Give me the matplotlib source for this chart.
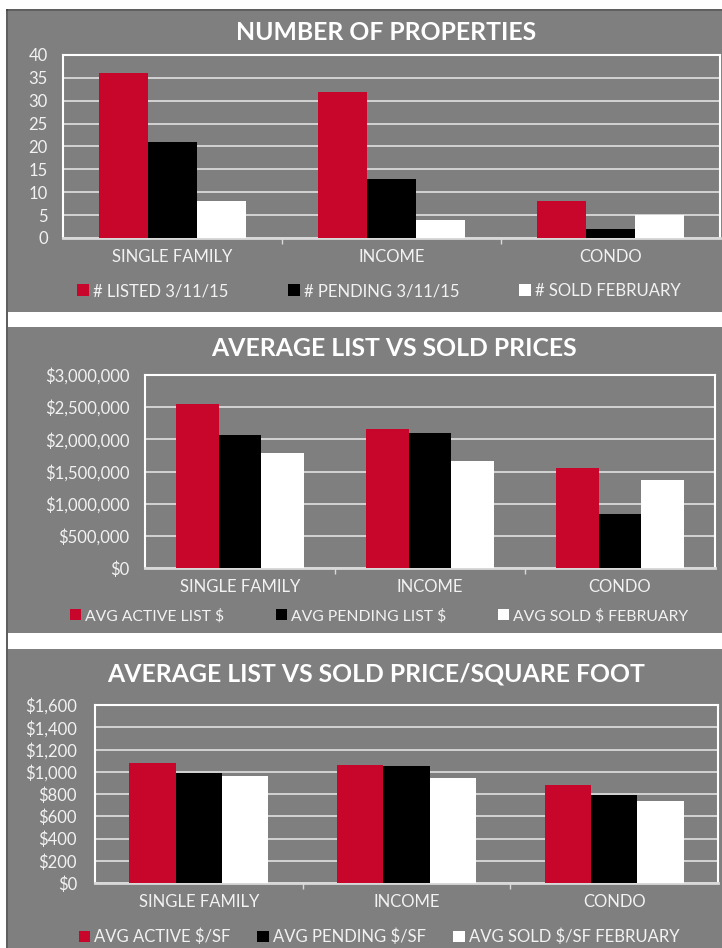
import matplotlib.pyplot as plt
import matplotlib.patches as mpatches
import matplotlib.ticker as mticker
from matplotlib.lines import Line2D
import numpy as np

plt.rcParams['font.family'] = ['Lato', 'DejaVu Sans']

categories = ["SINGLE FAMILY", "INCOME", "CONDO"]

count_labels = ["# LISTED 3/11/15", "# PENDING 3/11/15", "# SOLD FEBRUARY"]
num_listed = [36, 32, 8]
num_pending = [21, 13, 2]
num_sold = [8, 4, 5]

price_labels = ["AVG ACTIVE LIST $", "AVG PENDING LIST $", "AVG SOLD $ FEBRUARY"]
price_active = [2550000, 2155000, 1555000]
price_pending = [2070000, 2095000, 840000]
price_sold = [1790000, 1660000, 1375000]

sf_labels = ["AVG ACTIVE $/SF", "AVG PENDING $/SF", "AVG SOLD $/SF FEBRUARY"]
sf_active = [1075, 1060, 883]
sf_pending = [990, 1055, 795]
sf_sold = [963, 948, 735]

RED = "#c8062c"
GRAY = "#7f7f7f"
LIGHT = "#f2f2f2"
GRID = "#d9d9d9"
W, H = 722, 948

fig = plt.figure(figsize=(W / 100, H / 100), dpi=100)
fig.patch.set_facecolor("white")


def px_rect(left, top, right, bottom):
    return [left / W, 1 - bottom / H, (right - left) / W, (bottom - top) / H]


# gray panels behind each chart
for top, bottom in [(11, 312), (327, 633), (649, 948)]:
    fig.patches.append(mpatches.Rectangle((8 / W, 1 - bottom / H), (W - 8) / W, (bottom - top) / H,
                                          transform=fig.transFigure, facecolor=GRAY, edgecolor="none", zorder=-5))
fig.lines.append(Line2D([7 / W, 7 / W], [0, 1 - 10 / H], transform=fig.transFigure, color="#404040", lw=1.2, zorder=-4))
fig.lines.append(Line2D([7 / W, 1], [1 - 10 / H, 1 - 10 / H], transform=fig.transFigure, color="#404040", lw=1.2, zorder=-4))


def panel(rect, title, title_xy, series, labels, ymax, ystep, fmt, leg_y, colspace, ypad, legsize):
    ax = fig.add_axes(px_rect(*rect))
    ax.set_facecolor(GRAY)
    x = np.arange(len(categories))
    width = 0.223
    colors = [RED, "black", "white"]
    handles = []
    for i, (vals, lab) in enumerate(zip(series, labels)):
        b = ax.bar(x + (i - 1) * width, vals, width, color=colors[i], label=lab, zorder=3)
        handles.append(b)
    ax.set_xlim(-0.5, len(categories) - 0.5)
    ax.set_ylim(0, ymax)
    ax.set_yticks(np.arange(0, ymax + ystep / 2, ystep))
    ax.yaxis.set_major_formatter(mticker.FuncFormatter(fmt))
    ax.grid(axis="y", color=GRID, lw=1.3, zorder=1)
    ax.set_axisbelow(True)
    ax.set_xticks(x)
    ax.set_xticklabels(categories)
    ax.set_xticks([0.5, 1.5], minor=True)
    ax.tick_params(axis="x", which="major", length=0, pad=8, labelsize=12, labelcolor=LIGHT)
    ax.tick_params(axis="x", which="minor", length=4, color=GRID, width=1)
    ax.tick_params(axis="y", length=0, pad=ypad, labelsize=12, labelcolor=LIGHT)
    for s in ["top", "left", "right"]:
        ax.spines[s].set_color("white")
        ax.spines[s].set_linewidth(1.5)
    ax.spines["bottom"].set_color(GRID)
    ax.spines["bottom"].set_linewidth(2)
    fig.text(title_xy[0] / W, 1 - title_xy[1] / H, title,
             ha="center", va="center", color="white", fontsize=17.8, fontweight="bold")
    fig.legend(handles=handles, loc="center", bbox_to_anchor=(379 / W, 1 - leg_y / H), ncol=3,
               frameon=False, handlelength=0.7, handleheight=0.7, handletextpad=0.25,
               columnspacing=colspace, fontsize=legsize, labelcolor=LIGHT)
    return ax


panel((63, 55, 720, 238), "NUMBER OF PROPERTIES", (386, 32),
      [num_listed, num_pending, num_sold], count_labels, 40, 5,
      lambda v, p: f"{v:.0f}", 291, 3.6, 11, 12)
panel((145, 375, 715, 568), "AVERAGE LIST VS SOLD PRICES", (394, 349),
      [price_active, price_pending, price_sold], price_labels, 3000000, 500000,
      lambda v, p: f"${v:,.0f}", 616, 3.3, 11, 11.3)
panel((95, 705, 718, 883), "AVERAGE LIST VS SOLD PRICE/SQUARE FOOT", (376, 674),
      [sf_active, sf_pending, sf_sold], sf_labels, 1600, 200,
      lambda v, p: f"${v:,.0f}", 937, 1.6, 13, 12)

fig.savefig("out.png", dpi=100, facecolor=fig.get_facecolor())
